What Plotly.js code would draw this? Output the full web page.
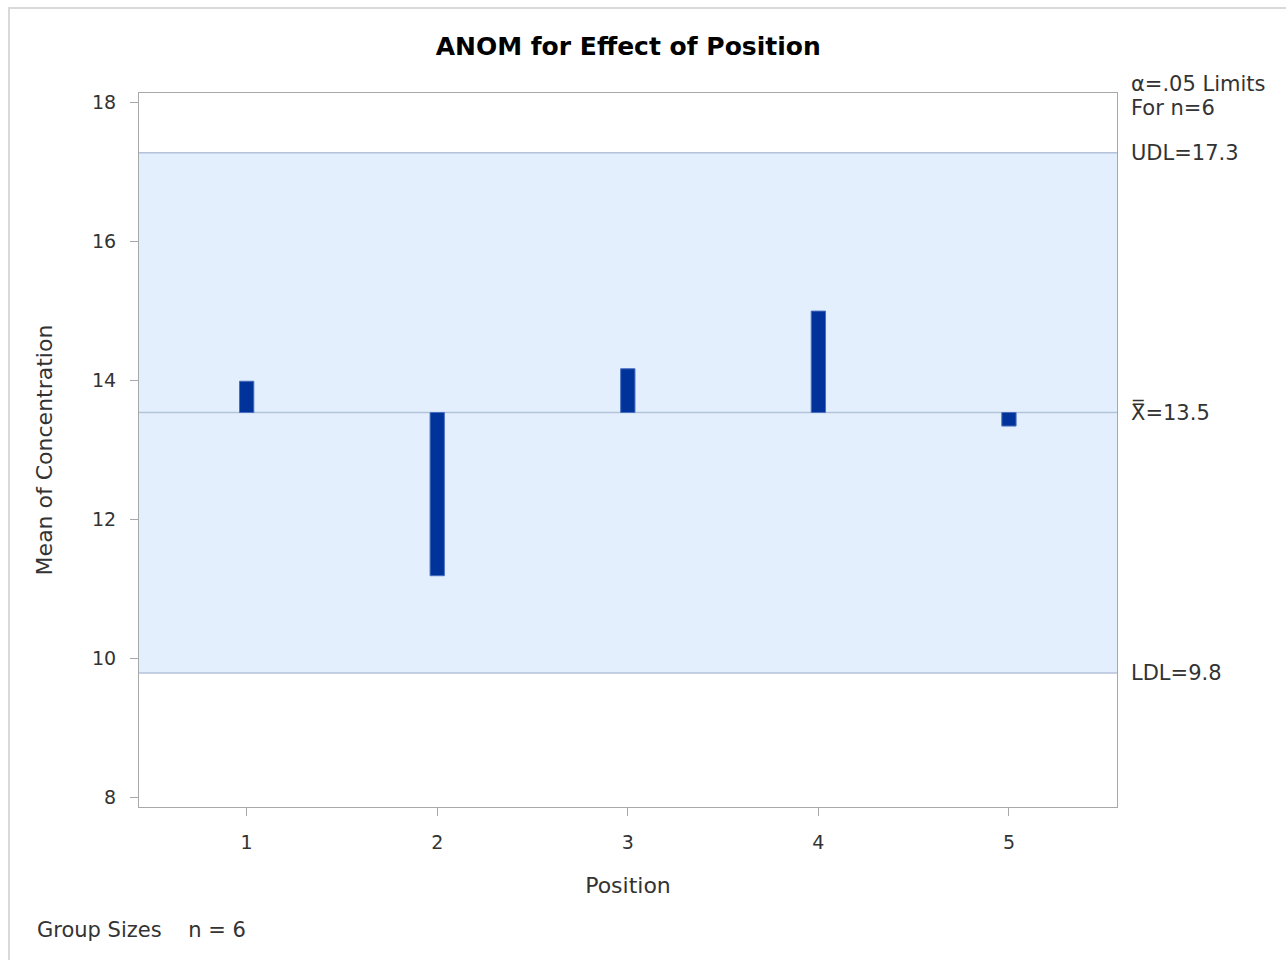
<!DOCTYPE html>
<html>
<head>
<meta charset="utf-8">
<script src="https://cdn.plot.ly/plotly-3.0.1.min.js"></script>
<style>
  html, body { margin: 0; padding: 0; background: #fff; }
  #wrap { position: relative; width: 1286px; height: 960px; overflow: hidden; }
  #chart { position: absolute; left: 0; top: 0; width: 1286px; height: 960px; }
  #frame { position: absolute; left: 8px; top: 7px; width: 1300px; height: 980px;
           border-left: 2px solid #d9d9d9; border-top: 2px solid #d9d9d9; pointer-events: none; }
</style>
</head>
<body>
<div id="wrap"><div id="chart"></div><div id="frame"></div></div>
<script>
const positions = [1, 2, 3, 4, 5];
const groupMeans = [13.99, 11.19, 14.17, 15.0, 13.345];
const centerLine = 13.54;
const udl = 17.28;
const ldl = 9.79;
const labelUDL = "UDL=17.3";
const labelCenter = "X\u033F=13.5";
const labelLDL = "LDL=9.8";
const limitsLine1 = "\u03B1=.05 Limits";
const limitsLine2 = "For n=6";
const groupSizesText = "Group Sizes&nbsp;&nbsp;&nbsp;&nbsp;n = 6";
const yTicks = [8, 10, 12, 14, 16, 18];

const font = "DejaVu Sans, Liberation Sans, Arial, sans-serif";
const txt = "#333333";

const trace = {
  type: "bar",
  x: positions,
  base: positions.map(() => centerLine),
  y: groupMeans.map(v => v - centerLine),
  width: 0.075,
  marker: { color: "#003399", line: { color: "#4a6fc0", width: 1 } },
  hoverinfo: "skip"
};

const lineColor = "#b4c2da";
const labelFont = { family: font, size: 21, color: txt };
const layout = {
  width: 1286, height: 960,
  margin: { l: 139, r: 169, t: 93, b: 153 },
  paper_bgcolor: "rgba(0,0,0,0)",
  plot_bgcolor: "#ffffff",
  showlegend: false,
  font: { family: font, size: 19, color: txt },
  title: { text: "<b>ANOM for Effect of Position</b>", x: 0.4885, xanchor: "center", y: 0.952, yanchor: "middle",
           font: { family: font, size: 25, color: "#000" } },
  xaxis: {
    range: [0.435, 5.567], tickvals: positions, ticktext: positions.map(String),
    showgrid: false, zeroline: false, showline: true, mirror: true, linecolor: "#a8a8a8", linewidth: 1,
    ticks: "outside", ticklen: 8, tickcolor: "#a8a8a8", ticklabelstandoff: 10,
    tickfont: { family: font, size: 19, color: txt },
    title: { text: "Position", standoff: 25, font: { family: font, size: 22, color: txt } }
  },
  yaxis: {
    range: [7.86, 18.14], tickvals: yTicks,
    showgrid: false, zeroline: false, showline: true, mirror: true, linecolor: "#a8a8a8", linewidth: 1,
    ticks: "outside", ticklen: 8, tickcolor: "#a8a8a8", ticklabelstandoff: 10,
    tickfont: { family: font, size: 19, color: txt },
    title: { text: "Mean of Concentration", standoff: 33, font: { family: font, size: 22, color: txt } }
  },
  shapes: [
    { type: "rect", xref: "paper", yref: "y", x0: 0, x1: 1, y0: ldl, y1: udl,
      fillcolor: "#e3effd", line: { width: 0 }, layer: "below" },
    { type: "line", xref: "paper", yref: "y", x0: 0, x1: 1, y0: udl, y1: udl, line: { color: lineColor, width: 1.5 }, layer: "below" },
    { type: "line", xref: "paper", yref: "y", x0: 0, x1: 1, y0: centerLine, y1: centerLine, line: { color: lineColor, width: 1.5 }, layer: "below" },
    { type: "line", xref: "paper", yref: "y", x0: 0, x1: 1, y0: ldl, y1: ldl, line: { color: lineColor, width: 1.5 }, layer: "below" }
  ],
  annotations: [
    { xref: "paper", yref: "paper", x: 1, y: 1.0126, xanchor: "left", yanchor: "middle", xshift: 12,
      align: "left", showarrow: false, text: limitsLine1, font: labelFont },
    { xref: "paper", yref: "paper", x: 1, y: 0.979, xanchor: "left", yanchor: "middle", xshift: 12,
      align: "left", showarrow: false, text: limitsLine2, font: labelFont },
    { xref: "paper", yref: "y", x: 1, y: udl, xanchor: "left", yanchor: "middle", xshift: 12, showarrow: false,
      text: labelUDL, font: labelFont },
    { xref: "paper", yref: "y", x: 1, y: centerLine, xanchor: "left", yanchor: "middle", xshift: 12, showarrow: false,
      text: labelCenter, font: labelFont },
    { xref: "paper", yref: "y", x: 1, y: ldl, xanchor: "left", yanchor: "middle", xshift: 12, showarrow: false,
      text: labelLDL, font: labelFont },
    { xref: "paper", yref: "paper", x: -0.1043, y: -0.172, xanchor: "left", yanchor: "middle", xshift: -2, showarrow: false,
      text: groupSizesText, font: labelFont }
  ]
};

Plotly.newPlot("chart", [trace], layout, { displayModeBar: false, staticPlot: true });
</script>
</body>
</html>
